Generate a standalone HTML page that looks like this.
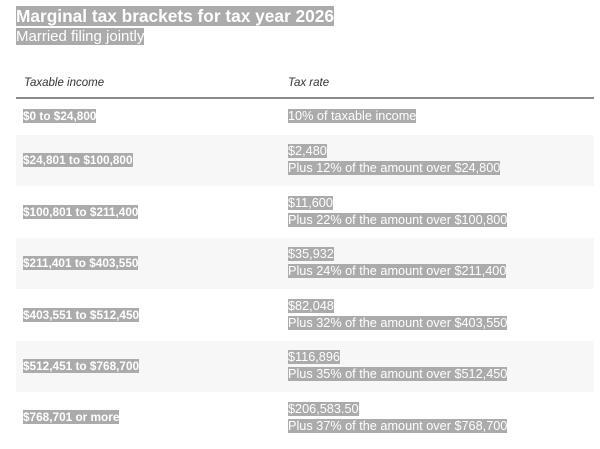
<!DOCTYPE html>
<html><head><style>
body{margin:0;width:600px;height:449px;background:#fff;font-family:"Liberation Sans",sans-serif;position:relative;overflow:hidden}
.h{background:#ababab;color:#fff}
.t{position:absolute;left:16px;top:5px;font-size:17.3px;font-weight:bold;line-height:22px}
.s{position:absolute;left:16px;top:28px;font-size:15px;line-height:18px}
.hd{position:absolute;top:77px;font-size:11.5px;font-style:italic;color:#333}
.line{position:absolute;left:16px;width:578px;top:97px;height:2px;background:#8a8a8a}
.row{position:absolute;left:16px;width:578px}
.row.g{background:#f7f7f7}
.l{position:absolute;left:7px;font-size:11.8px;font-weight:bold;line-height:15px}
.r{position:absolute;left:272px;font-size:12.7px;line-height:17px}
</style></head><body>
<div class="t"><span class="h">Marginal tax brackets for tax year 2026</span></div>
<div class="s"><span class="h">Married filing jointly</span></div>
<div class="hd" style="left:24px">Taxable income</div>
<div class="hd" style="left:288px">Tax rate</div>
<div class="line"></div>

<div class="row" style="top:99px;height:35px"><div class="l" style="top:10px"><span class="h">$0 to $24,800</span></div><div class="r" style="top:9px"><span class="h">10% of taxable income</span></div></div>

<div class="row g" style="top:135px;height:51px"><div class="l" style="top:18px"><span class="h">$24,801 to $100,800</span></div><div class="r" style="top:8px"><span class="h">$2,480</span><br><span class="h">Plus 12% of the amount over $24,800</span></div></div>

<div class="row" style="top:187px;height:50px"><div class="l" style="top:18px"><span class="h">$100,801 to $211,400</span></div><div class="r" style="top:8px"><span class="h">$11,600</span><br><span class="h">Plus 22% of the amount over $100,800</span></div></div>

<div class="row g" style="top:238px;height:51px"><div class="l" style="top:18px"><span class="h">$211,401 to $403,550</span></div><div class="r" style="top:8px"><span class="h">$35,932</span><br><span class="h">Plus 24% of the amount over $211,400</span></div></div>

<div class="row" style="top:290px;height:50px"><div class="l" style="top:18px"><span class="h">$403,551 to $512,450</span></div><div class="r" style="top:8px"><span class="h">$82,048</span><br><span class="h">Plus 32% of the amount over $403,550</span></div></div>

<div class="row g" style="top:341px;height:51px"><div class="l" style="top:18px"><span class="h">$512,451 to $768,700</span></div><div class="r" style="top:8px"><span class="h">$116,896</span><br><span class="h">Plus 35% of the amount over $512,450</span></div></div>

<div class="row" style="top:393px;height:51px"><div class="l" style="top:17px"><span class="h">$768,701 or more</span></div><div class="r" style="top:8px"><span class="h">$206,583.50</span><br><span class="h">Plus 37% of the amount over $768,700</span></div></div>
</body></html>
